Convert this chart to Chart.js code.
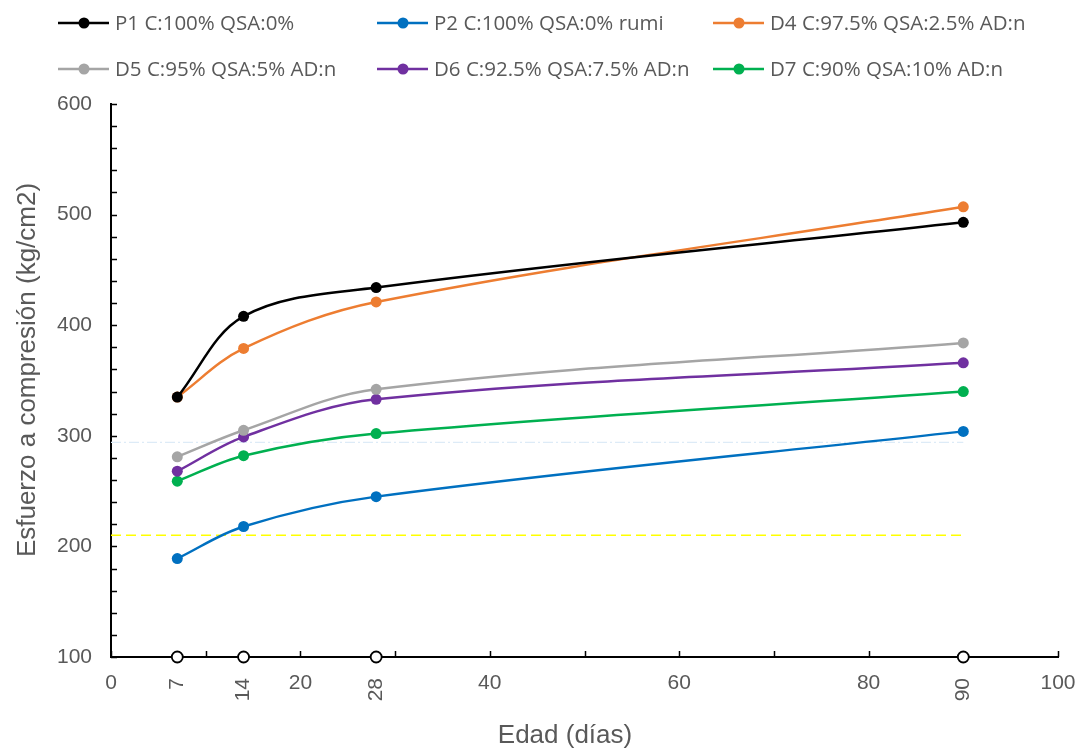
<!DOCTYPE html>
<html>
<head>
<meta charset="utf-8">
<script src="https://cdn.jsdelivr.net/npm/chart.js@4.4.1/dist/chart.umd.min.js"></script>
<style>
  body { margin: 0; background: #fff; }
  #wrap { width: 1079px; height: 749px; }
</style>
</head>
<body>
<div id="wrap"><canvas id="chart" width="1079" height="749"></canvas></div>
<script>
// edad de ensayo (días) y resistencia a compresión (kg/cm2)
const ages = [7, 14, 28, 90]
const p1 = [335, 408, 434, 493]
const p2 = [189, 218, 245, 304]
const d4 = [335, 379, 421, 507]
const d5 = [281, 305, 342, 384]
const d6 = [268, 299, 333, 366]
const d7 = [259, 282, 302, 340]

const names = [
  'P1 C:100% QSA:0%',
  'P2 C:100% QSA:0% rumi',
  'D4 C:97.5% QSA:2.5% AD:n',
  'D5 C:95% QSA:5% AD:n',
  'D6 C:92.5% QSA:7.5% AD:n',
  'D7 C:90% QSA:10% AD:n'
]
const colors = ['#000000', '#0070C0', '#ED7D31', '#A5A5A5', '#7030A0', '#00B050']

// resistencias de referencia: f'c = 210 y 1.4 f'c = 294
const fc = 210
const fcr = 294
const yTicksLabelled = [100, 200, 300, 400, 500, 600]
const xTicksLabelled = [0, 20, 40, 60, 80, 100]

const grey = '#595959'
const seriesValues = [p1, p2, d4, d5, d6, d7]

const toPoints = vals => vals.map((v, i) => ({ x: ages[i], y: v }))

const datasets = seriesValues.map((vals, i) => ({
  label: names[i],
  data: toPoints(vals),
  borderColor: colors[i],
  backgroundColor: colors[i],
  borderWidth: 2.5,
  pointRadius: 5.5,
  pointHoverRadius: 5.5,
  pointBorderWidth: 0,
  tension: 0.35,
  order: i
}))

// marcas huecas sobre el eje de edades
datasets.push({
  label: 'edades',
  data: ages.map(a => ({ x: a, y: 100 })),
  showLine: false,
  pointRadius: 5.5,
  pointBorderWidth: 1.8,
  borderColor: '#000',
  backgroundColor: '#fff',
  clip: false,
  order: -1
})

datasets.push({
  label: 'fc',
  data: [{ x: 0, y: fc }, { x: 90, y: fc }],
  borderColor: '#FFFF00',
  borderWidth: 1.5,
  borderDash: [10, 5],
  pointRadius: 0,
  order: 10
})
datasets.push({
  label: 'fcr',
  data: [{ x: 0, y: fcr }, { x: 90, y: fcr }],
  borderColor: '#DDEBF7',
  borderWidth: 1.2,
  borderDash: [10, 3, 2, 3],
  pointRadius: 0,
  order: 10
})

// ticks hacia adentro, etiquetas giradas de edades, titulos y leyenda
const extras = {
  id: 'extras',
  beforeDatasetsDraw(chart) {
    const { ctx, chartArea, scales: { x, y } } = chart
    ctx.save()
    ctx.strokeStyle = '#000'
    ctx.lineWidth = 1.5
    ctx.beginPath()
    x.ticks.forEach(t => {
      const px = Math.round(x.getPixelForValue(t.value)) + 0.5
      ctx.moveTo(px, chartArea.bottom)
      ctx.lineTo(px, chartArea.bottom - 6)
    })
    y.ticks.forEach(t => {
      const py = Math.round(y.getPixelForValue(t.value)) + 0.5
      ctx.moveTo(chartArea.left, py)
      ctx.lineTo(chartArea.left + 6, py)
    })
    ctx.stroke()
    ctx.restore()
  },
  afterDraw(chart) {
    const { ctx, chartArea, scales: { x } } = chart
    ctx.save()
    ctx.fillStyle = grey

    // etiquetas 7, 14, 28, 90 verticales
    ctx.font = '21px "Liberation Sans", Arial, sans-serif'
    ctx.textAlign = 'right'
    ctx.textBaseline = 'middle'
    ages.forEach(a => {
      ctx.save()
      ctx.translate(x.getPixelForValue(a), chartArea.bottom + 21)
      ctx.rotate(-Math.PI / 2)
      ctx.fillText(String(a), 0, 0)
      ctx.restore()
    })

    // titulos de ejes
    ctx.font = '26px "Liberation Sans", Arial, sans-serif'
    ctx.textAlign = 'center'
    ctx.fillText('Edad (días)', 565, 736)
    ctx.save()
    ctx.translate(28, 370)
    ctx.rotate(-Math.PI / 2)
    ctx.fillText('Esfuerzo a compresión (kg/cm2)', 0, 0)
    ctx.restore()

    // leyenda en dos filas de tres columnas
    const cols = [58, 377, 713]
    const rows = [23, 69]
    ctx.font = '20.5px "Open Sans", sans-serif'
    ctx.textAlign = 'left'
    names.forEach((n, i) => {
      const lx = cols[i % 3]
      const ly = rows[Math.floor(i / 3)]
      ctx.strokeStyle = colors[i]
      ctx.lineWidth = 2.5
      ctx.beginPath()
      ctx.moveTo(lx, ly)
      ctx.lineTo(lx + 51, ly)
      ctx.stroke()
      ctx.fillStyle = colors[i]
      ctx.beginPath()
      ctx.arc(lx + 26, ly, 5.5, 0, Math.PI * 2)
      ctx.fill()
      ctx.fillStyle = grey
      ctx.fillText(n, lx + 57, ly + 1)
    })
    ctx.restore()
  }
}

const ctx = document.getElementById('chart').getContext('2d')
const myChart = new Chart(ctx, {
  type: 'line',
  data: { datasets: datasets },
  options: {
    responsive: false,
    animation: false,
    events: [],
    layout: { padding: { top: 104, left: 0, right: 21, bottom: 0 } },
    scales: {
      x: {
        type: 'linear',
        min: 0,
        max: 100,
        afterFit: s => { s.height = 92; s.paddingLeft = 0; s.paddingRight = 0 },
        ticks: {
          stepSize: 10,
          autoSkip: false,
          maxRotation: 0,
          padding: 14,
          color: grey,
          font: { family: '"Liberation Sans", Arial, sans-serif', size: 21 },
          callback: v => xTicksLabelled.includes(v) ? v : ''
        },
        grid: { drawOnChartArea: false, drawTicks: false },
        border: { color: '#000', width: 2 }
      },
      y: {
        min: 100,
        max: 600,
        afterFit: s => { s.width = 111; s.paddingTop = 0; s.paddingBottom = 0 },
        ticks: {
          stepSize: 20,
          autoSkip: false,
          padding: 19,
          color: grey,
          font: { family: '"Liberation Sans", Arial, sans-serif', size: 21 },
          callback: v => yTicksLabelled.includes(v) ? v : ''
        },
        grid: { drawOnChartArea: false, drawTicks: false },
        border: { color: '#000', width: 2 }
      }
    },
    plugins: {
      legend: { display: false },
      tooltip: { enabled: false }
    }
  },
  plugins: [extras]
})
</script>
</body>
</html>
